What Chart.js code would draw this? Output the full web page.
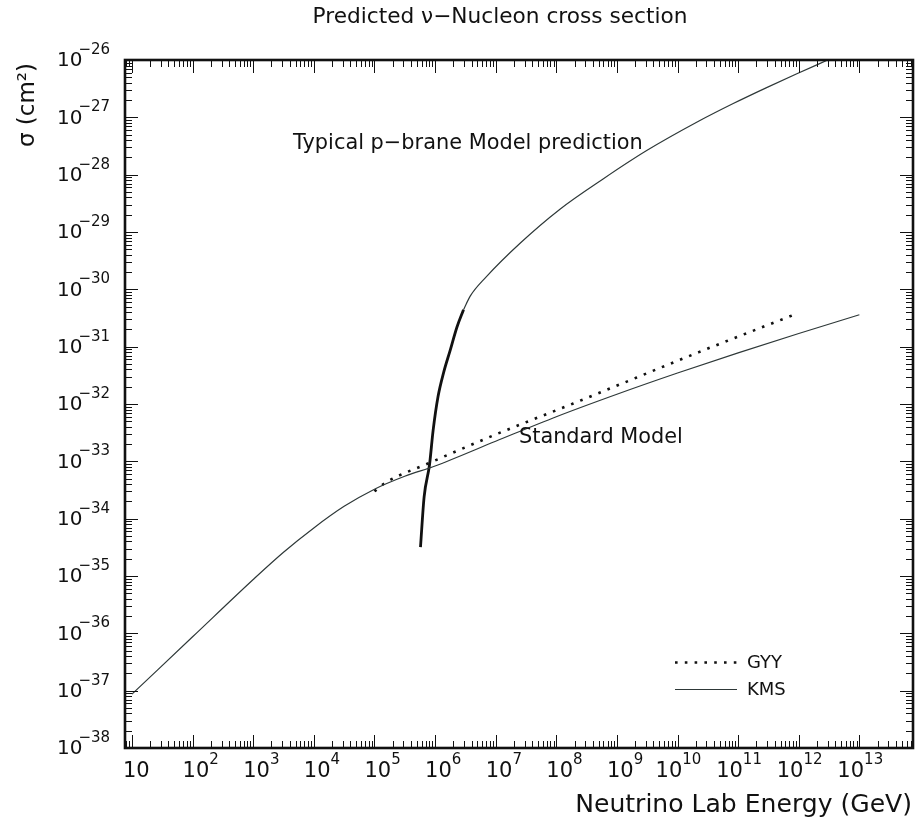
<!DOCTYPE html>
<html>
<head>
<meta charset="utf-8">
<title>Predicted neutrino-nucleon cross section</title>
<script src="https://cdn.jsdelivr.net/npm/chart.js@4.4.0/dist/chart.umd.min.js"></script>
<style>
  html, body { margin: 0; padding: 0; background: #fff; }
  canvas { display: block; }
</style>
</head>
<body>
<canvas id="chart" width="915" height="820"></canvas>
<script>
// Neutrino lab energy (GeV) and cross section sigma (cm^2)
const kmsEnergy = [1e1, 1e2, 1e3, 3.16e3, 1e4, 3.16e4, 1e5, 3.16e5, 1e6, 1e7, 1e8, 1e9, 1e10, 1e11, 1e12, 1e13];
const kmsSigma  = [8.7e-38, 8.7e-37, 8.7e-36, 2.6e-35, 6.9e-35, 1.64e-34, 3.27e-34, 5.5e-34, 8.3e-34, 2.24e-33, 6.0e-33, 1.48e-32, 3.47e-32, 7.8e-32, 1.7e-31, 3.6e-31];

const gyyEnergy = [1e5, 1.5e5, 8.3e5, 1.05e7, 1.9e8, 2.3e10, 9.5e11];
const gyySigma  = [3.0e-34, 4.2e-34, 9.5e-34, 3.0e-33, 1.02e-32, 8.1e-32, 3.8e-31];

// p-brane prediction: steep rise near threshold, then the high-energy branch
const pbraneRiseEnergy = [5.75e5, 6.6e5, 8.1e5, 9.3e5, 1.12e6, 1.38e6, 1.78e6, 2.3e6, 2.95e6];
const pbraneRiseSigma  = [3.2e-35, 2.4e-34, 8.7e-34, 3.5e-33, 1.35e-32, 3.5e-32, 8.7e-32, 2.2e-31, 4.4e-31];
const pbraneEnergy = [2.95e6, 3.8e6, 6.8e6, 2.5e7, 1.15e8, 6.0e8, 3.1e9, 2.3e10, 8.3e10, 2.95e11, 9.3e11, 3.0e12];
const pbraneSigma  = [4.4e-31, 7.6e-31, 1.6e-30, 6.3e-30, 2.5e-29, 8.5e-29, 2.63e-28, 8.7e-28, 1.74e-27, 3.3e-27, 5.75e-27, 1e-26];

// Axis ranges and decade labels
const energyMin = 7.67, energyMax = 7.67e13;
const sigmaMin = 1e-38, sigmaMax = 1e-26;
const energyLabelExponents = [1, 2, 3, 4, 5, 6, 7, 8, 9, 10, 11, 12, 13];
const sigmaLabelExponents = [-38, -37, -36, -35, -34, -33, -32, -31, -30, -29, -28, -27, -26];

const chartTitle = 'Predicted \u03bd\u2212Nucleon cross section';
const xTitle = 'Neutrino Lab Energy (GeV)';
const yTitle = '\u03c3 (cm\u00b2)';

const FONT = '"DejaVu Sans", "Liberation Sans", sans-serif';
const INK = '#111';

function pts(xs, ys) { return xs.map((v, i) => ({ x: v, y: ys[i] })); }

function fitFont(ctx, text, width, weight) {
  ctx.font = (weight || '') + ' 100px ' + FONT;
  const w = ctx.measureText(text).width;
  return 100 * width / w;
}

// Frame with inward log ticks on all four sides, decade labels and titles
const axisDecor = {
  id: 'axisDecor',
  afterDraw(chart) {
    const { ctx, chartArea: a, scales } = chart;
    const xs = scales.x, ys = scales.y;
    ctx.save();

    const logTicks = (s) => {
      const out = [];
      const lo = Math.floor(Math.log10(s.min)) - 1, hi = Math.ceil(Math.log10(s.max)) + 1;
      for (let k = lo; k <= hi; k++) {
        for (let m = 1; m <= 9; m++) {
          const v = m * Math.pow(10, k);
          if (v >= s.min * 0.9999 && v <= s.max * 1.0001) out.push({ v, major: m === 1 });
        }
      }
      return out;
    };
    const MAJ = 13, MIN = 7;
    ctx.strokeStyle = INK;
    ctx.lineWidth = 1;
    ctx.beginPath();
    for (const t of logTicks(xs)) {
      const px = Math.round(xs.getPixelForValue(t.v)) + 0.5;
      const len = t.major ? MAJ : MIN;
      ctx.moveTo(px, a.bottom); ctx.lineTo(px, a.bottom - len);
      ctx.moveTo(px, a.top); ctx.lineTo(px, a.top + len);
    }
    for (const t of logTicks(ys)) {
      const py = Math.round(ys.getPixelForValue(t.v)) + 0.5;
      const len = t.major ? MAJ : MIN;
      ctx.moveTo(a.left, py); ctx.lineTo(a.left + len, py);
      ctx.moveTo(a.right, py); ctx.lineTo(a.right - len, py);
    }
    ctx.stroke();

    // frame
    ctx.lineWidth = 2.6;
    ctx.strokeRect(a.left, a.top, a.right - a.left, a.bottom - a.top);

    // decade labels
    ctx.fillStyle = INK;
    ctx.textBaseline = 'middle';
    ctx.textAlign = 'left';
    for (const k of energyLabelExponents) {
      const px = xs.getPixelForValue(Math.pow(10, k));
      const by = a.bottom + 24;
      ctx.font = '21px ' + FONT;
      if (k === 1) {
        ctx.fillText('10', px - 9, by);
        continue;
      }
      const sup = String(k);
      const left = px - (sup.length > 1 ? 22 : 10);
      ctx.fillText('10', left, by);
      const bw = ctx.measureText('10').width;
      ctx.font = '15px ' + FONT;
      ctx.fillText(sup, left + bw, by - 12);
    }
    for (const k of sigmaLabelExponents) {
      const py = ys.getPixelForValue(Math.pow(10, k));
      ctx.font = '20px ' + FONT;
      const bw = ctx.measureText('10').width;
      const left = 57;
      ctx.fillText('10', left, py + 1);
      ctx.font = '15px ' + FONT;
      ctx.fillText('\u2212' + String(-k), left + bw - 4, py - 10);
    }

    // titles
    ctx.textAlign = 'center';
    ctx.font = fitFont(ctx, chartTitle, 375) + 'px ' + FONT;
    ctx.fillText(chartTitle, 500, 17);

    ctx.textAlign = 'right';
    ctx.font = fitFont(ctx, xTitle, 337) + 'px ' + FONT;
    ctx.fillText(xTitle, 912, 805);

    ctx.save();
    ctx.translate(28, 105);
    ctx.rotate(-Math.PI / 2);
    ctx.textAlign = 'center';
    ctx.font = fitFont(ctx, yTitle, 84) + 'px ' + FONT;
    ctx.fillText(yTitle, 0, 0);
    ctx.restore();

    // curve annotations
    ctx.textAlign = 'left';
    const notes = [
      { text: 'Typical p\u2212brane Model prediction', left: 293, cy: 144, width: 350 },
      { text: 'Standard Model', left: 519, cy: 438, width: 164 }
    ];
    for (const n of notes) {
      ctx.font = fitFont(ctx, n.text, n.width) + 'px ' + FONT;
      ctx.fillText(n.text, n.left, n.cy);
    }

    // legend, styled from the datasets
    const legendRows = [
      { label: 'GYY', cy: 662 },
      { label: 'KMS', cy: 689 }
    ];
    ctx.font = '18px ' + FONT;
    for (const row of legendRows) {
      const ds = chart.data.datasets.find(d => d.label === row.label);
      ctx.save();
      ctx.strokeStyle = ds.borderColor;
      ctx.lineWidth = ds.borderWidth;
      ctx.setLineDash(ds.borderDash || []);
      ctx.beginPath();
      ctx.moveTo(675, row.cy + 0.5);
      ctx.lineTo(737, row.cy + 0.5);
      ctx.stroke();
      ctx.restore();
      ctx.fillText(row.label, 747, row.cy + 1);
    }
    ctx.restore();
  }
};

const lineStyle = { showLine: true, pointRadius: 0, cubicInterpolationMode: 'monotone', fill: false };

new Chart(document.getElementById('chart'), {
  type: 'scatter',
  data: {
    datasets: [
      Object.assign({ label: 'KMS', data: pts(kmsEnergy, kmsSigma), borderColor: '#2e3838', borderWidth: 1.2 }, lineStyle),
      Object.assign({ label: 'GYY', data: pts(gyyEnergy, gyySigma), borderColor: '#111', borderWidth: 2.6, borderDash: [2.6, 7.2] }, lineStyle),
      Object.assign({ label: 'p-brane rise', data: pts(pbraneRiseEnergy, pbraneRiseSigma), borderColor: '#111', borderWidth: 2.8 }, lineStyle),
      Object.assign({ label: 'p-brane', data: pts(pbraneEnergy, pbraneSigma), borderColor: '#2e3838', borderWidth: 1.2 }, lineStyle)
    ]
  },
  options: {
    responsive: false,
    devicePixelRatio: 1,
    animation: false,
    layout: { padding: { left: 125, top: 60, right: 2, bottom: 72 } },
    plugins: { legend: { display: false }, tooltip: { enabled: false }, title: { display: false } },
    scales: {
      x: { type: 'logarithmic', min: energyMin, max: energyMax, display: false },
      y: { type: 'logarithmic', min: sigmaMin, max: sigmaMax, display: false }
    }
  },
  plugins: [axisDecor]
});
</script>
</body>
</html>
